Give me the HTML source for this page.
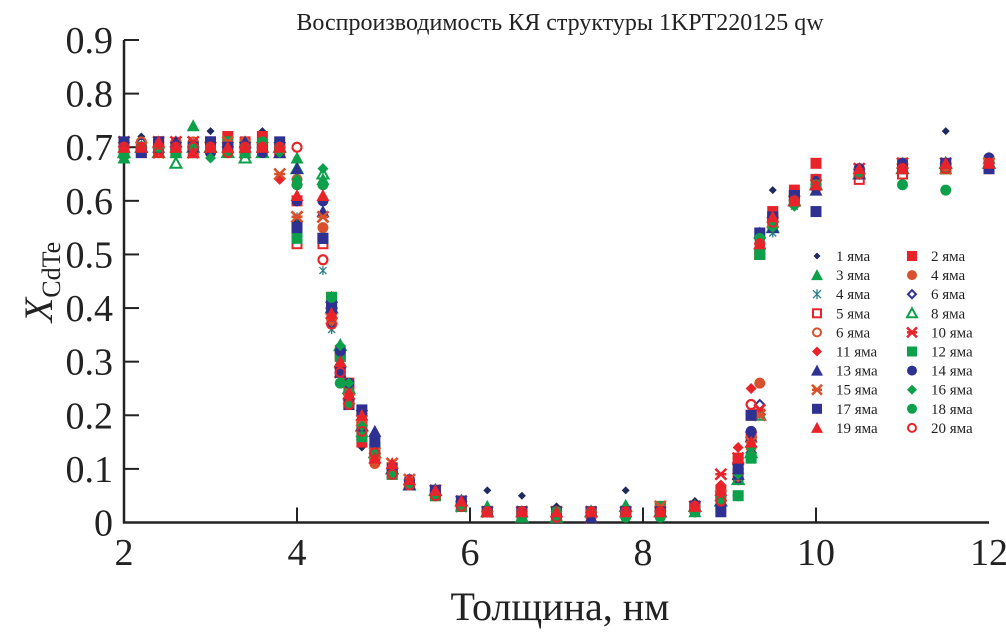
<!DOCTYPE html>
<html><head><meta charset="utf-8">
<style>
html,body{margin:0;padding:0;background:#fff;}
svg{display:block;font-family:"Liberation Serif","DejaVu Serif",serif;}
</style></head>
<body>
<svg id="chart" width="1006" height="634" viewBox="0 0 1006 634">
<text x="560" y="30" text-anchor="middle" font-size="24" fill="#222">Воспроизводимость КЯ структуры 1KPT220125 qw</text>
<g id="axes"></g>
<g id="marks"></g>
<g id="legend"></g>
<text x="560" y="620" text-anchor="middle" font-size="40" fill="#222">Толщина, нм</text>
<text transform="translate(52,282) rotate(-90)" text-anchor="middle" font-size="40" fill="#222"><tspan font-style="italic">X</tspan><tspan font-size="26" dy="8">CdTe</tspan></text>
</svg>
<script>
const xs = [2.0,2.2,2.4,2.6,2.8,3.0,3.2,3.4,3.6,3.8,4.0,4.3,4.4,4.5,4.6,4.75,4.9,5.1,5.3,5.6,5.9,6.2,6.6,7.0,7.4,7.8,8.2,8.6,8.9,9.1,9.25,9.35,9.5,9.75,10.0,10.5,11.0,11.5,12.0];
const y01 = [0.71,0.72,0.70,0.71,0.70,0.73,0.72,0.70,0.73,0.70,0.56,0.55,0.41,0.29,0.23,0.14,0.12,0.10,0.07,0.06,0.04,0.06,0.05,0.03,0.02,0.06,0.03,0.04,0.07,0.12,0.20,0.50,0.62,0.60,0.63,0.66,0.67,0.73,0.67];
const y02 = [0.70,0.69,0.71,0.70,0.69,0.71,0.72,0.70,0.72,0.70,0.60,0.53,0.42,0.32,0.25,0.15,0.12,0.09,0.07,0.05,0.03,0.02,0.02,0.01,0.02,0.02,0.03,0.03,0.06,0.12,0.20,0.50,0.58,0.62,0.67,0.65,0.67,0.66,0.67];
const y03 = [0.68,0.70,0.71,0.69,0.74,0.70,0.71,0.69,0.70,0.69,0.68,0.64,0.41,0.30,0.24,0.17,0.13,0.10,0.08,0.06,0.04,0.03,0.02,0.02,0.02,0.03,0.02,0.02,0.05,0.09,0.15,0.52,0.56,0.60,0.63,0.66,0.67,0.66,0.68];
const y04 = [0.70,0.70,0.69,0.71,0.70,0.69,0.70,0.71,0.70,0.70,0.64,0.55,0.37,0.28,0.24,0.20,0.11,0.10,0.07,0.06,0.04,0.02,0.02,0.01,0.01,0.02,0.02,0.02,0.04,0.08,0.14,0.26,0.55,0.60,0.63,0.65,0.66,0.67,0.68];
const y05 = [0.71,0.69,0.70,0.70,0.71,0.70,0.69,0.70,0.70,0.69,0.57,0.47,0.36,0.29,0.22,0.17,0.12,0.09,0.07,0.05,0.03,0.02,0.01,0.01,0.02,0.02,0.02,0.03,0.05,0.10,0.16,0.20,0.54,0.59,0.62,0.65,0.66,0.66,0.67];
const y06 = [0.70,0.71,0.70,0.70,0.70,0.71,0.70,0.69,0.70,0.70,0.63,0.63,0.37,0.28,0.23,0.18,0.13,0.10,0.08,0.05,0.03,0.02,0.02,0.02,0.02,0.02,0.03,0.03,0.04,0.08,0.13,0.22,0.55,0.60,0.63,0.65,0.66,0.67,0.67];
const y07 = [0.70,0.70,0.71,0.69,0.70,0.70,0.70,0.71,0.70,0.69,0.52,0.52,0.40,0.31,0.26,0.18,0.13,0.09,0.07,0.06,0.03,0.02,0.02,0.01,0.02,0.02,0.02,0.03,0.05,0.09,0.16,0.50,0.57,0.61,0.64,0.64,0.65,0.66,0.66];
const y08 = [0.69,0.70,0.69,0.67,0.70,0.70,0.69,0.68,0.69,0.70,0.66,0.65,0.40,0.33,0.25,0.18,0.13,0.10,0.07,0.06,0.04,0.02,0.01,0.01,0.02,0.03,0.02,0.03,0.04,0.08,0.13,0.20,0.55,0.60,0.63,0.65,0.66,0.67,0.67];
const y09 = [0.70,0.71,0.69,0.70,0.71,0.69,0.70,0.71,0.70,0.70,0.70,0.49,0.38,0.29,0.23,0.17,0.13,0.10,0.07,0.05,0.03,0.02,0.01,0.02,0.02,0.02,0.02,0.03,0.05,0.11,0.22,0.52,0.56,0.61,0.64,0.66,0.67,0.66,0.66];
const y10 = [0.71,0.70,0.69,0.71,0.71,0.70,0.70,0.69,0.70,0.70,0.57,0.57,0.39,0.28,0.23,0.20,0.12,0.11,0.08,0.06,0.03,0.02,0.02,0.02,0.01,0.02,0.02,0.03,0.09,0.12,0.16,0.21,0.56,0.60,0.63,0.66,0.67,0.67,0.67];
const y11 = [0.70,0.69,0.70,0.71,0.70,0.70,0.69,0.70,0.70,0.64,0.63,0.53,0.39,0.28,0.24,0.19,0.12,0.10,0.07,0.06,0.04,0.02,0.02,0.01,0.02,0.02,0.02,0.02,0.07,0.14,0.25,0.52,0.57,0.60,0.62,0.65,0.66,0.67,0.66];
const y12 = [0.69,0.70,0.70,0.69,0.70,0.70,0.71,0.69,0.70,0.70,0.53,0.53,0.42,0.31,0.22,0.16,0.14,0.09,0.07,0.05,0.03,0.02,0.02,0.01,0.02,0.02,0.03,0.03,0.05,0.05,0.12,0.50,0.56,0.60,0.63,0.65,0.66,0.66,0.67];
const y13 = [0.70,0.70,0.70,0.71,0.69,0.70,0.70,0.71,0.70,0.69,0.66,0.58,0.42,0.30,0.24,0.18,0.17,0.10,0.07,0.06,0.04,0.02,0.02,0.02,0.01,0.02,0.02,0.03,0.04,0.09,0.16,0.54,0.55,0.60,0.62,0.65,0.66,0.67,0.67];
const y14 = [0.71,0.70,0.70,0.70,0.70,0.69,0.70,0.70,0.69,0.70,0.60,0.60,0.41,0.32,0.26,0.16,0.16,0.10,0.08,0.06,0.03,0.02,0.02,0.01,0.02,0.02,0.02,0.02,0.05,0.10,0.17,0.53,0.57,0.61,0.64,0.66,0.67,0.67,0.68];
const y15 = [0.70,0.70,0.71,0.70,0.69,0.70,0.71,0.70,0.70,0.65,0.57,0.57,0.38,0.28,0.23,0.19,0.13,0.11,0.08,0.06,0.04,0.02,0.02,0.02,0.02,0.02,0.03,0.03,0.05,0.10,0.15,0.20,0.56,0.60,0.63,0.65,0.66,0.66,0.67];
const y16 = [0.68,0.69,0.70,0.70,0.70,0.68,0.69,0.70,0.70,0.69,0.64,0.66,0.42,0.33,0.26,0.18,0.13,0.10,0.07,0.05,0.03,0.02,0.02,0.01,0.02,0.02,0.02,0.03,0.04,0.09,0.14,0.52,0.55,0.59,0.63,0.65,0.66,0.67,0.67];
const y17 = [0.71,0.69,0.71,0.70,0.70,0.71,0.70,0.70,0.70,0.71,0.55,0.53,0.40,0.28,0.22,0.21,0.15,0.10,0.07,0.06,0.04,0.02,0.02,0.02,0.02,0.02,0.02,0.03,0.02,0.10,0.20,0.54,0.57,0.61,0.58,0.65,0.66,0.67,0.66];
const y18 = [0.69,0.70,0.70,0.69,0.70,0.70,0.69,0.70,0.71,0.70,0.63,0.63,0.42,0.26,0.22,0.16,0.13,0.09,0.07,0.05,0.03,0.02,0.01,0.02,0.02,0.01,0.01,0.02,0.05,0.05,0.12,0.53,0.56,0.60,0.63,0.65,0.63,0.62,0.67];
const y19 = [0.70,0.70,0.71,0.70,0.69,0.70,0.70,0.70,0.70,0.70,0.61,0.61,0.39,0.30,0.24,0.20,0.12,0.11,0.08,0.06,0.04,0.02,0.02,0.02,0.02,0.02,0.02,0.03,0.06,0.12,0.15,0.52,0.57,0.60,0.63,0.66,0.66,0.67,0.67];
const y20 = [0.70,0.70,0.69,0.70,0.70,0.70,0.69,0.70,0.70,0.70,0.70,0.49,0.37,0.28,0.22,0.17,0.13,0.09,0.07,0.05,0.03,0.02,0.02,0.01,0.02,0.02,0.02,0.03,0.04,0.12,0.22,0.52,0.56,0.60,0.64,0.65,0.66,0.66,0.67];
const seriesY = [y01,y02,y03,y04,y05,y06,y07,y08,y09,y10,y11,y12,y13,y14,y15,y16,y17,y18,y19,y20];
const seriesNames = ['1 яма','2 яма','3 яма','4 яма','4 яма','6 яма','5 яма','8 яма','6 яма','10 яма','11 яма','12 яма','13 яма','14 яма','15 яма','16 яма','17 яма','18 яма','19 яма','20 яма'];
const seriesMarkers = ['diamond','square','triangle','circle','asterisk','odiamond','osquare','otriangle','ocircle','xstar','diamond','square','triangle','circle','xstar','diamond','square','circle','triangle','ocircle'];
const seriesColors = ['#1e2a5e','#e8242a','#0ca04a','#d9512c','#2a7f8a','#2e3192','#e8242a','#0ca04a','#d9512c','#e8242a','#e8242a','#0ca04a','#2e3192','#2e3192','#d9512c','#0ca04a','#2e3192','#0ca04a','#e8242a','#e8242a'];
const xTicks = [2,4,6,8,10,12];
const yTicks = [0,0.1,0.2,0.3,0.4,0.5,0.6,0.7,0.8,0.9];
const yTickLabels = ['0','0.1','0.2','0.3','0.4','0.5','0.6','0.7','0.8','0.9'];

const NS='http://www.w3.org/2000/svg';
const X0=124,X1=989,Y0=522.5,Y1=40;
function sx(v){return X0+(v-2)/(12-2)*(X1-X0);}
function sy(v){return Y0-(v-0)/(0.9)*(Y0-Y1);}
function mk(tag,attrs,parent){const e=document.createElementNS(NS,tag);for(const k in attrs)e.setAttribute(k,attrs[k]);parent.appendChild(e);return e;}

const axes=document.getElementById('axes');
let el=mk('line',{x1:X0,y1:Y1,x2:X0,y2:Y0+1,stroke:'#222','stroke-width':2.5},axes);


el=mk('line',{x1:X0-1,y1:Y0,x2:X1,y2:Y0,stroke:'#222','stroke-width':2.5},axes);


xTicks.forEach(t=>{
  const x=sx(t);
  if(t>2&&t<12){const tk=mk('line',{x1:x,y1:Y0,x2:x,y2:Y0-15,stroke:'#222','stroke-width':2},axes);
  
  }
  const tx=mk('text',{x:x,y:565,'text-anchor':'middle','font-size':38,fill:'#222'},axes);
  tx.textContent=String(t);
  
  
});
yTicks.forEach((t,i)=>{
  const y=sy(t);
  if(i>0){const tk=mk('line',{x1:X0,y1:y,x2:X0+15,y2:y,stroke:'#222','stroke-width':2},axes);
  
  }
  const tx=mk('text',{x:113,y:y+13,'text-anchor':'end','font-size':38,fill:'#222'},axes);
  tx.textContent=yTickLabels[i];
  
  
});

function drawMarker(g,type,cx,cy,c,s){
  const h=s/2;let e;
  switch(type){
    case 'diamond': e=mk('polygon',{points:`${cx},${cy-h} ${cx+h},${cy} ${cx},${cy+h} ${cx-h},${cy}`,fill:c},g);break;
    case 'odiamond': e=mk('polygon',{points:`${cx},${cy-h+1} ${cx+h-1},${cy} ${cx},${cy+h-1} ${cx-h+1},${cy}`,fill:'none',stroke:c,'stroke-width':2},g);break;
    case 'square': e=mk('rect',{x:cx-h,y:cy-h,width:s,height:s,fill:c},g);break;
    case 'osquare': e=mk('rect',{x:cx-h+1,y:cy-h+1,width:s-2,height:s-2,fill:'none',stroke:c,'stroke-width':2},g);break;
    case 'triangle': e=mk('polygon',{points:`${cx},${cy-h-1} ${cx+h+1},${cy+h} ${cx-h-1},${cy+h}`,fill:c},g);break;
    case 'otriangle': e=mk('polygon',{points:`${cx},${cy-h} ${cx+h},${cy+h-1} ${cx-h},${cy+h-1}`,fill:'none',stroke:c,'stroke-width':2},g);break;
    case 'circle': e=mk('circle',{cx:cx,cy:cy,r:h,fill:c},g);break;
    case 'ocircle': e=mk('circle',{cx:cx,cy:cy,r:h-1,fill:'none',stroke:c,'stroke-width':2},g);break;
    case 'asterisk': e=mk('path',{d:`M${cx-h+1},${cy-h+1}L${cx+h-1},${cy+h-1}M${cx+h-1},${cy-h+1}L${cx-h+1},${cy+h-1}M${cx},${cy-h}L${cx},${cy+h}`,stroke:c,'stroke-width':1.3,fill:'none'},g);break;
    case 'xstar': e=mk('path',{d:`M${cx-h},${cy-h}L${cx+h},${cy+h}M${cx+h},${cy-h}L${cx-h},${cy+h}M${cx-h},${cy}L${cx+h},${cy}`,stroke:c,'stroke-width':2.5,fill:'none'},g);break;
  }
  return e;
}

const marks=document.getElementById('marks');
seriesY.forEach((ys,si)=>{
  const g=mk('g',{},marks);
  
  
  const sz = si===0?8:(seriesMarkers[si]==='asterisk'?9:11);
  ys.forEach((v,i)=>{
    const m=drawMarker(g,seriesMarkers[si],sx(xs[i]),sy(v),seriesColors[si],sz);
    
    
  });
});

const legend=document.getElementById('legend');
seriesNames.forEach((n,i)=>{
  const col=i%2,row=Math.floor(i/2);
  const mx=col===0?817:912,ty=256+row*19.1;
  const g=mk('g',{},legend);
  
  
  drawMarker(g,seriesMarkers[i],mx,ty,seriesColors[i],i===0?7:10);
  const t=mk('text',{x:mx+19,y:ty+5,'font-size':15,fill:'#222'},g);
  t.textContent=n;
});
</script>
</body></html>
